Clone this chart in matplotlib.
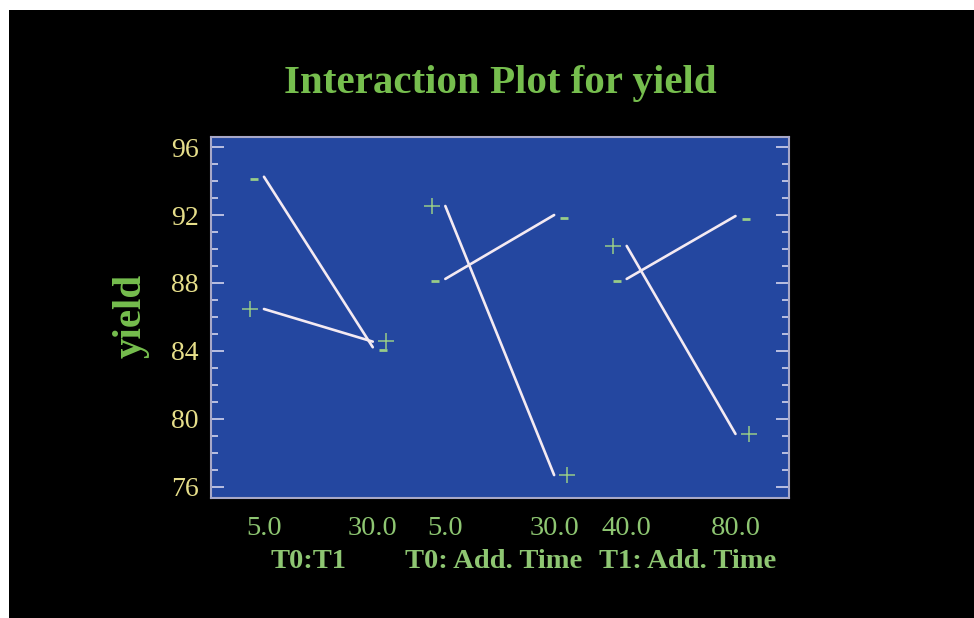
import matplotlib
matplotlib.use("Agg")
import matplotlib.pyplot as plt
from matplotlib.patches import Rectangle
from matplotlib.transforms import offset_copy, blended_transform_factory
from matplotlib.ticker import MultipleLocator

# ---- data ----
factors = ["T0:T1", "T0: Add. Time", "T1: Add. Time"]
level_labels = [["5.0", "30.0"], ["5.0", "30.0"], ["40.0", "80.0"]]
plus_values = [[86.47, 84.55], [92.53, 76.70], [90.18, 79.12]]
minus_values = [[94.25, 84.22], [88.24, 92.00], [88.24, 91.94]]
y_ticks = [76, 80, 84, 88, 92, 96]

# ---- styling ----
BLUE = "#2447A0"
LINE = "#F4EAF2"
MARK = "#98CC88"
GREEN_TITLE = "#76BE4E"
GREEN_TICK = "#8EC672"
YELLOW = "#E6DE8A"
SPINE = "#A8A8C8"
TICKC = "#D4D4EC"
SERIF = ["Liberation Serif", "DejaVu Serif"]

W, H = 974, 618
fig = plt.figure(figsize=(W / 100, H / 100), dpi=100, facecolor="white")
fig.patches.append(Rectangle((9 / W, 0), 1, 1 - 10 / H, transform=fig.transFigure,
                             facecolor="black", edgecolor="none", zorder=-5))

ax = fig.add_axes([211 / W, 1 - 498 / H, (789 - 211) / W, (498 - 137) / H])
ax.set_facecolor(BLUE)
for s in ax.spines.values():
    s.set_color(SPINE)
    s.set_linewidth(1.5)

panel_step = 1.0
level_step = 0.6

xpos = []
xlab = []
for p, (labs, pv, mv) in enumerate(zip(level_labels, plus_values, minus_values)):
    xs = [p * panel_step, p * panel_step + level_step]
    xpos += xs
    xlab += labs
    ax.plot(xs, pv, color=LINE, lw=1.9, solid_capstyle="round", zorder=3)
    ax.plot(xs, mv, color=LINE, lw=1.9, solid_capstyle="round", zorder=3)
    # '+' markers
    for i, (dx, dy) in enumerate([(-9.7, 0.0), (9.6, 0.3)]):
        tr = offset_copy(ax.transData, fig=fig, x=dx, y=dy, units="points")
        ax.plot([xs[i]], [pv[i]], marker="+", ms=11, mew=1.1, color=MARK,
                transform=tr, zorder=4, linestyle="none")
    # '-' markers
    for i, (dx, dy) in enumerate([(-7.2, -1.6), (7.4, -2.2)]):
        tr = offset_copy(ax.transData, fig=fig, x=dx, y=dy, units="points")
        ax.plot([xs[i]], [mv[i]], marker="_", ms=5.5, mew=2.0, color=MARK,
                transform=tr, zorder=4, linestyle="none")

ax.set_xlim(-0.292, 2.895)
ax.set_ylim(75.35, 96.59)

ax.set_yticks(y_ticks)
ax.yaxis.set_minor_locator(MultipleLocator(1))
ax.tick_params(axis="y", which="both", direction="in", left=True, right=True,
               color=TICKC, width=1.2, labelcolor=YELLOW, labelsize=20, pad=9)
ax.tick_params(axis="y", which="major", length=9.5)
ax.tick_params(axis="y", which="minor", length=5)
for t in ax.get_yticklabels():
    t.set_family(SERIF)

ax.set_xticks(xpos)
ax.set_xticklabels(xlab, family=SERIF)
ax.tick_params(axis="x", which="both", length=0, labelcolor=GREEN_TICK,
               labelsize=20.5, pad=13)

# factor names under each panel
trb = blended_transform_factory(ax.transData, ax.transAxes)
group_shift = [-0.055, -0.035, 0.037]
for p, name in enumerate(factors):
    ax.text(p * panel_step + level_step / 2 + group_shift[p], -0.194, name,
            transform=trb, ha="center", va="baseline", color=GREEN_TICK,
            fontsize=20.5, fontweight="bold", family=SERIF)

fig.text(500 / W, 1 - 93.3 / H, "Interaction Plot for yield", ha="center",
         va="baseline", color=GREEN_TITLE, fontsize=29.5, fontweight="bold",
         family=SERIF)
fig.text(131 / W, 1 - 316 / H, "yield", rotation=90, ha="center", va="center",
         color=GREEN_TITLE, fontsize=29.5, fontweight="bold", family=SERIF)

fig.savefig("out.png", dpi=100, facecolor=fig.get_facecolor())
